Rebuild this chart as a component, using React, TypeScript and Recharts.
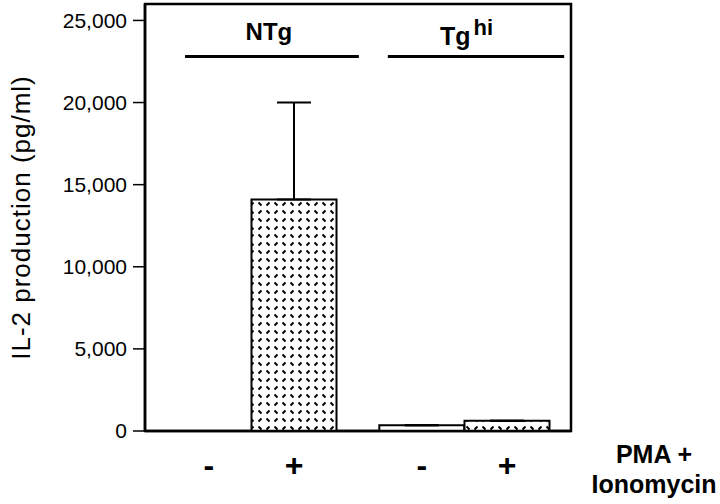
import React from 'react';
import { Bar, BarChart, Cell, ErrorBar, Label, ReferenceArea, ReferenceLine, XAxis, YAxis } from 'recharts';

// values
const groups = ['NTg', 'Tg'];
const groupSup = ['', 'hi'];
const conditions = ['-', '+', '-', '+'];
const il2Values = [0, 14100, 350, 620];
const il2ErrUp = [0, 5900, 0, 0];
const yTicks = [0, 5000, 10000, 15000, 20000, 25000];

const FONT = '"Liberation Sans", Arial, Helvetica, sans-serif';

// two bars per group, half a bar gap between groups
const barPos = (i: number) => Math.floor(i / 2) * 2.5 + (i % 2) + 0.75;

const data = il2Values.map((v, i) => ({
  pos: barPos(i),
  cond: conditions[i],
  value: v,
  err: [0, il2ErrUp[i]],
}));

const ConditionTick = (props: any) => {
  const { x, y, payload } = props;
  const idx = data.findIndex((d) => d.pos === payload.value);
  return (
    <text x={x} y={y + 34} textAnchor="middle" dominantBaseline="central" fontFamily={FONT} fontWeight="bold" fontSize={32} fill="#000">
      {idx >= 0 ? data[idx].cond : ''}
    </text>
  );
};

const groupLabel = (gi: number) => (props: any) => {
  const vb = props.viewBox || {};
  const cx = vb.x + vb.width / 2;
  const y = vb.y;
  if (!groupSup[gi]) {
    return (
      <text x={cx - 3} y={y - 17} textAnchor="middle" fontFamily={FONT} fontWeight="bold" fontSize={24} fill="#000">
        {groups[gi]}
      </text>
    );
  }
  return (
    <text x={cx - 36} y={y - 12} textAnchor="start" fontFamily={FONT} fontWeight="bold" fontSize={25} fill="#000">
      {groups[gi]}
      <tspan dx={3} dy={-10} fontSize={22}>{groupSup[gi]}</tspan>
    </text>
  );
};

const stimLabel = (props: any) => {
  const vb = props.viewBox || {};
  const cx = vb.x + vb.width + 83;
  return (
    <text textAnchor="middle" fontFamily={FONT} fontWeight="bold" fontSize={25} fill="#000">
      <tspan x={cx} y={vb.y + 32}>PMA +</tspan>
      <tspan x={cx} y={vb.y + 62}>Ionomycin</tspan>
    </text>
  );
};

const App = () => {
  const axisLine = { stroke: '#000', strokeWidth: 2.5 };
  return (
    <div style={{ position: 'absolute', left: 0, top: 0, width: 720, height: 504, background: '#fff' }}>
      <svg width={0} height={0} style={{ position: 'absolute' }}>
        <defs>
          <pattern id="dashFill" width={16} height={16} patternUnits="userSpaceOnUse">
            <rect width={16} height={16} fill="#fff" />
            <g stroke="#000" strokeWidth={1.9} strokeLinecap="butt">
              <line x1={2.5} y1={5.5} x2={5.5} y2={2.5} />
              <line x1={10.5} y1={2.5} x2={13.5} y2={5.5} />
              <line x1={2.5} y1={10.5} x2={5.5} y2={13.5} />
              <line x1={10.5} y1={13.5} x2={13.5} y2={10.5} />
            </g>
          </pattern>
        </defs>
      </svg>
      <BarChart width={720} height={504} data={data} margin={{ top: 4, right: 149, bottom: 0, left: 0 }}>
        <XAxis
          dataKey="pos"
          type="number"
          domain={[0, 5]}
          ticks={data.map((d) => d.pos)}
          interval={0}
          height={73}
          tickSize={0}
          tickMargin={0}
          tickLine={false}
          axisLine={axisLine}
          tick={<ConditionTick />}
        >
          <Label content={stimLabel} />
        </XAxis>
        <YAxis
          type="number"
          domain={[0, 26000]}
          ticks={yTicks}
          interval={0}
          width={145}
          tickSize={12}
          tickMargin={6}
          tickLine={{ stroke: '#000', strokeWidth: 1.5 }}
          axisLine={axisLine}
          tickFormatter={(v: number) => v.toLocaleString('en-US')}
          tick={{ fill: '#000', fontSize: 21, fontFamily: FONT }}
        >
          <Label
            value="IL-2 production (pg/ml)"
            angle={-90}
            position="insideLeft"
            offset={21}
            style={{ textAnchor: 'middle', fontSize: 26, letterSpacing: 1, fontFamily: FONT, fill: '#000' }}
          />
        </YAxis>
        {/* plot frame */}
        <ReferenceArea x1={0} x2={5} y1={0} y2={26000} fill="none" stroke="#000" strokeWidth={2.5} ifOverflow="visible" />
        <ReferenceLine
          segment={[{ x: 0.47, y: 22800 }, { x: 2.51, y: 22800 }]}
          stroke="#000"
          strokeWidth={3}
          label={groupLabel(0)}
        />
        <ReferenceLine
          segment={[{ x: 2.85, y: 22800 }, { x: 4.92, y: 22800 }]}
          stroke="#000"
          strokeWidth={3}
          label={groupLabel(1)}
        />
        <Bar dataKey="value" barSize={85} stroke="#000" strokeWidth={2} isAnimationActive={false}>
          {data.map((d, i) => (
            <Cell key={`cell-${i}`} fill={d.cond === '+' ? 'url(#dashFill)' : '#fff'} />
          ))}
          <ErrorBar dataKey="err" direction="y" width={17} stroke="#000" strokeWidth={2} isAnimationActive={false} />
        </Bar>
      </BarChart>
    </div>
  );
};

export default App;
